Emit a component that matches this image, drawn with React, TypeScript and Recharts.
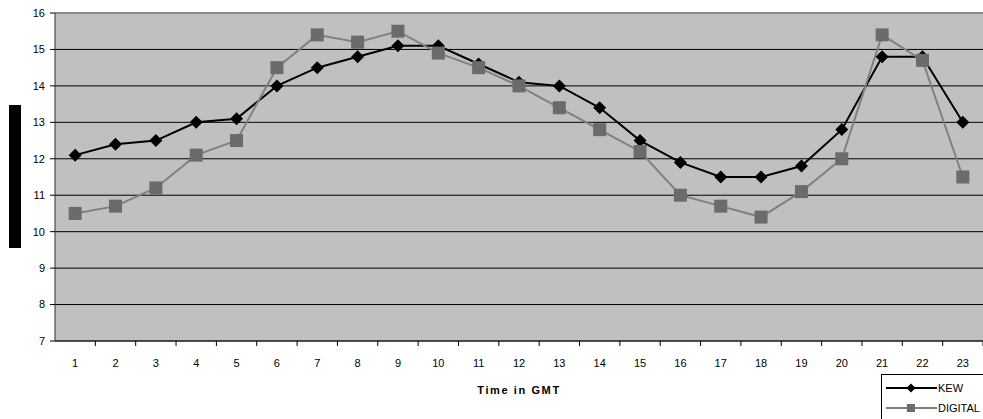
import {
  LineChart,
  Line,
  XAxis,
  YAxis,
  CartesianGrid,
  ReferenceLine,
  Legend,
} from 'recharts'

const hours = [
  '1', '2', '3', '4', '5', '6', '7', '8', '9', '10', '11', '12',
  '13', '14', '15', '16', '17', '18', '19', '20', '21', '22', '23',
]
const kew = [
  12.1, 12.4, 12.5, 13.0, 13.1, 14.0, 14.5, 14.8, 15.1, 15.1, 14.6, 14.1,
  14.0, 13.4, 12.5, 11.9, 11.5, 11.5, 11.8, 12.8, 14.8, 14.8, 13.0,
]
const digital = [
  10.5, 10.7, 11.2, 12.1, 12.5, 14.5, 15.4, 15.2, 15.5, 14.9, 14.5, 14.0,
  13.4, 12.8, 12.2, 11.0, 10.7, 10.4, 11.1, 12.0, 15.4, 14.7, 11.5,
]
const yTicks = [7, 8, 9, 10, 11, 12, 13, 14, 15, 16]

const data = hours.map((hour, i) => ({
  hour,
  KEW: kew[i],
  DIGITAL: digital[i],
}))

const W = 983
const H = 419
const LEFT = 55
const HALF = (W - LEFT) / hours.length / 2

function Diamond({ cx, cy, fill, half = 6.5 }: any) {
  if (cx == null || cy == null) return null
  return (
    <polygon
      points={`${cx},${cy - half} ${cx + half},${cy} ${cx},${cy + half} ${cx - half},${cy}`}
      fill={fill}
    />
  )
}

function Square({ cx, cy, fill, side = 13 }: any) {
  if (cx == null || cy == null) return null
  return <rect x={cx - side / 2} y={cy - side / 2} width={side} height={side} fill={fill} />
}

function HourTick({ x, y, payload }: any) {
  return (
    <g>
      <line x1={x + HALF} x2={x + HALF} y1={y - 18} y2={y - 13} stroke="#000" />
      <text x={x} y={y} dy="0.71em" textAnchor="middle" fontSize={11} fill="#000">
        {payload.value}
      </text>
    </g>
  )
}

function BlockLabel({ viewBox }: any) {
  const { x, y, height } = viewBox
  return <rect x={x + 9} y={y + height / 2 - 72} width={12} height={143} fill="#000" />
}

function LegendBox() {
  const row = (name: string, icon: any) => (
    <div style={{ display: 'flex', alignItems: 'center', height: 20 }}>
      <svg width={51} height={12}>{icon}</svg>
      <span style={{ fontSize: 11, color: '#000', marginLeft: 1 }}>{name}</span>
    </div>
  )
  return (
    <div
      style={{
        border: '1px solid #000',
        background: '#fff',
        width: 110,
        height: 50,
        boxSizing: 'border-box',
        paddingTop: 3,
        paddingLeft: 4,
      }}
    >
      {row(
        'KEW',
        <>
          <line x1={0} x2={51} y1={6} y2={6} stroke="#000" strokeWidth={2} />
          <Diamond cx={25} cy={6} half={4.5} fill="#000" />
        </>,
      )}
      {row(
        'DIGITAL',
        <>
          <line x1={0} x2={51} y1={6} y2={6} stroke="#808080" strokeWidth={2} />
          <Square cx={25} cy={6} side={8} fill="#6b6b6b" />
        </>,
      )}
    </div>
  )
}

export default function App() {
  return (
    <div
      style={{
        position: 'absolute',
        left: 0,
        top: 0,
        width: W,
        height: H,
        overflow: 'hidden',
        background: '#fff',
        fontFamily: '"Liberation Sans", Arial, sans-serif',
      }}
    >
      <LineChart
        width={W}
        height={H}
        data={data}
        margin={{ top: 13, right: 0, bottom: 0, left: 0 }}
      >
        <CartesianGrid
          vertical={false}
          stroke="#000"
          fill="#c0c0c0"
          fillOpacity={1}
        />
        <XAxis
          dataKey="hour"
          height={78}
          interval={0}
          padding={{ left: HALF, right: HALF }}
          axisLine={{ stroke: '#222' }}
          tickLine={false}
          tickSize={5}
          tickMargin={13}
          tick={<HourTick />}
          label={{
            value: 'Time in GMT',
            position: 'insideTop',
            offset: 45,
            style: { fontWeight: 'bold', letterSpacing: 1.6, fontSize: 11, fill: '#000' },
          }}
        />
        <YAxis
          type="number"
          width={LEFT}
          domain={[7, 16]}
          ticks={yTicks}
          interval={0}
          axisLine={{ stroke: '#333' }}
          tickLine={{ stroke: '#000' }}
          tickSize={5}
          tickMargin={5}
          tick={{ fontSize: 11, fill: '#000' }}
          label={BlockLabel}
        />
        <ReferenceLine y={16} stroke="#8a8a8a" strokeWidth={2} />
        <Legend
          layout="vertical"
          align="center"
          verticalAlign="middle"
          wrapperStyle={{ left: 881, top: 374, width: 110 }}
          content={() => <LegendBox />}
        />
        <Line
          type="linear"
          dataKey="KEW"
          stroke="#000"
          strokeWidth={2}
          dot={<Diamond fill="#000" />}
          activeDot={false}
          isAnimationActive={false}
        />
        <Line
          type="linear"
          dataKey="DIGITAL"
          stroke="#808080"
          strokeWidth={2}
          dot={<Square fill="#6b6b6b" />}
          activeDot={false}
          isAnimationActive={false}
        />
      </LineChart>
    </div>
  )
}
